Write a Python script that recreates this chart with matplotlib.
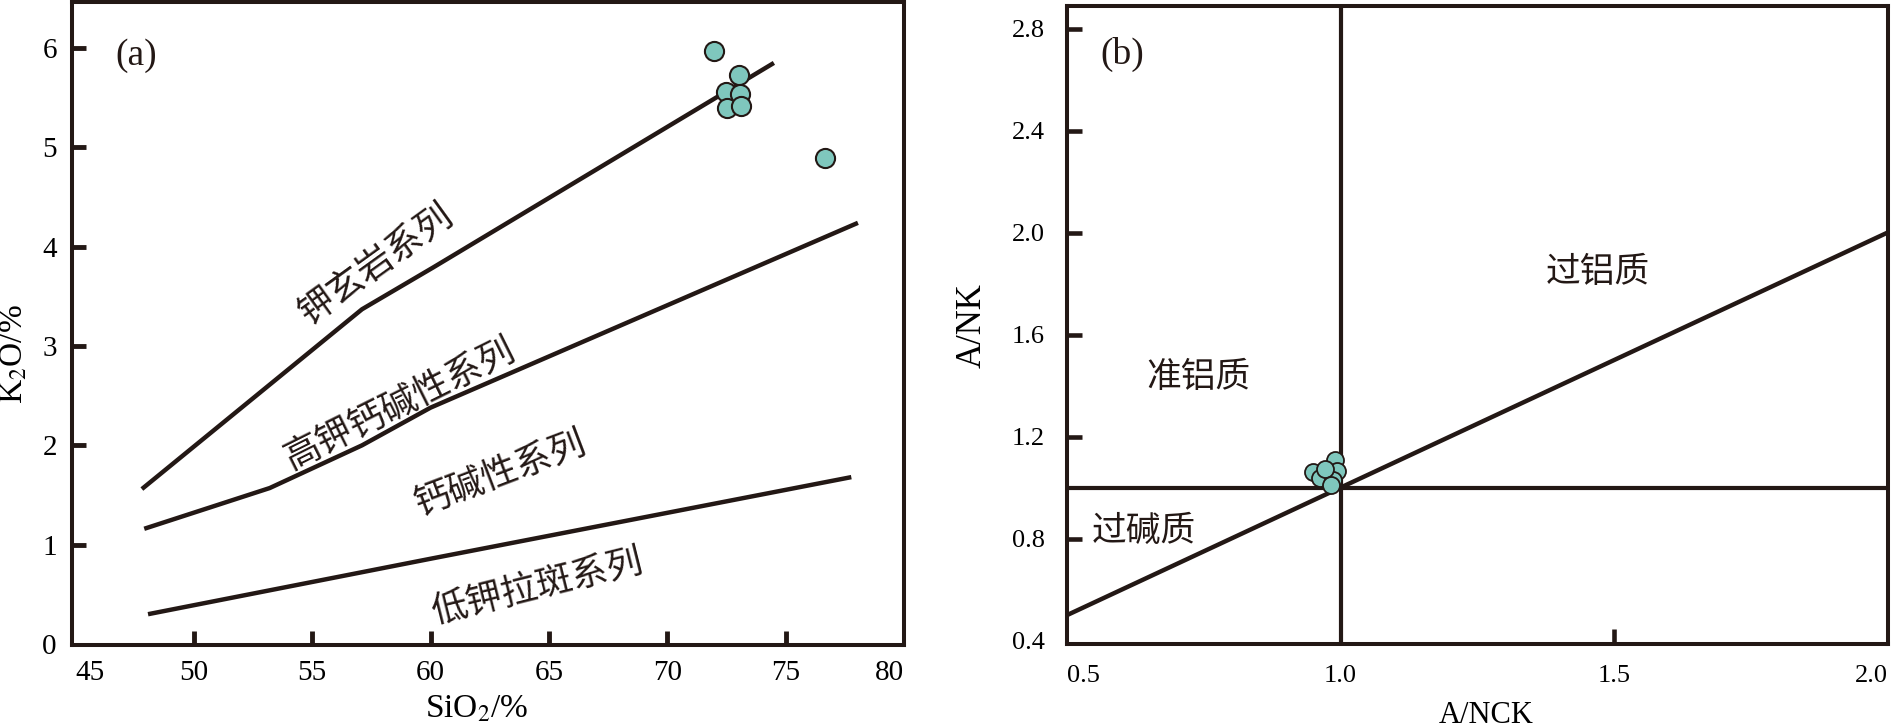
import matplotlib
matplotlib.use("Agg")
import matplotlib.pyplot as plt

# ---------------- data ----------------
# Panel (a): SiO2-K2O series boundaries
sho_x = [47.8, 57.1, 60.1, 74.5]
sho_y = [1.56, 3.37, 3.79, 5.85]
hk_x = [47.9, 53.2, 57.1, 60.0, 78.05]
hk_y = [1.16, 1.57, 2.00, 2.38, 4.24]
ca_x = [48.06, 60.03, 77.77]
ca_y = [0.30, 0.86, 1.68]

sio2 = [71.98, 73.02, 72.47, 73.06, 72.50, 73.13, 76.65]
k2o = [5.97, 5.73, 5.56, 5.54, 5.40, 5.42, 4.89]

a_xticks = [45, 50, 55, 60, 65, 70, 75, 80]
a_yticks = [0, 1, 2, 3, 4, 5, 6]

series_labels = ["钾玄岩系列", "高钾钙碱性系列", "钙碱性系列", "低钾拉斑系列"]
series_pos = [(57.7, 3.82), (58.69, 2.42), (62.96, 1.72), (64.49, 0.58)]
series_rot = [35.8, 26.5, 20.8, 14.0]

# Panel (b): A/NCK - A/NK
anck = [0.990, 0.993, 0.950, 0.962, 0.987, 0.972, 0.982]
ank = [1.108, 1.065, 1.060, 1.036, 1.030, 1.072, 1.012]

b_xticks = [0.5, 1.0, 1.5, 2.0]
b_xticklabels = ["0.5", "1.0", "1.5", "2.0"]
b_yticks = [0.4, 0.8, 1.2, 1.6, 2.0, 2.4, 2.8]
b_yticklabels = ["0.4", "0.8", "1.2", "1.6", "2.0", "2.4", "2.8"]

field_labels = ["过铝质", "准铝质", "过碱质"]
field_pos = [(1.47, 1.842), (0.74, 1.433), (0.64, 0.827)]

# ---------------- style ----------------
LINE = "#231815"
FACE = "#7fc7bd"
SERIF = ["Liberation Serif", "DejaVu Serif"]
CJK = ["Noto Sans CJK SC", "DejaVu Sans"]

plt.rcParams["font.family"] = SERIF
plt.rcParams["mathtext.fontset"] = "stix"

fig = plt.figure(figsize=(18.91, 7.27), dpi=100)
axa = fig.add_axes([0.0381, 0.1128, 0.4400, 0.8840])
axb = fig.add_axes([0.5643, 0.1136, 0.4339, 0.8787])

for ax in (axa, axb):
    for sp in ax.spines.values():
        sp.set_linewidth(2.9)
        sp.set_color(LINE)

# ---------------- panel (a) ----------------
axa.plot(sho_x, sho_y, color=LINE, lw=3.2, solid_capstyle="butt", zorder=2)
axa.plot(hk_x, hk_y, color=LINE, lw=3.2, solid_capstyle="butt", zorder=2)
axa.plot(ca_x, ca_y, color=LINE, lw=3.2, solid_capstyle="butt", zorder=2)
axa.scatter(sio2, k2o, s=190, c=FACE, edgecolors=LINE, linewidths=1.5, zorder=3)

axa.set_xlim(44.85, 79.75)
axa.set_ylim(-0.01, 6.46)
axa.set_xticks(a_xticks)
axa.set_yticks(a_yticks)
axa.tick_params(direction="in", length=10, width=3.5, color=LINE,
                labelsize=21, top=False, right=False)
axa.tick_params(axis="y", pad=11)
axa.tick_params(axis="x", pad=11)
for i in (0, len(a_xticks) - 1):
    axa.xaxis.get_major_ticks()[i].tick1line.set_visible(False)
axa.yaxis.get_major_ticks()[0].tick1line.set_visible(False)
xl = axa.get_xticklabels()
xl[0].set_ha("left")
xl[-1].set_ha("right")

axa.set_xlabel("SiO$_2$/%", fontsize=24, va="center")
axa.xaxis.set_label_coords(0.487, -0.10)
axa.set_ylabel("K$_2$O/%", fontsize=24, va="center", ha="center")
axa.yaxis.set_label_coords(-0.069, 0.452)

for lab, (x, y), r in zip(series_labels, series_pos, series_rot):
    axa.text(x, y, lab, family=CJK, fontsize=26, rotation=r,
             rotation_mode="anchor", ha="center", va="center", color=LINE)

axa.text(0.0766, 0.917, "(a)", transform=axa.transAxes, fontsize=27,
         ha="center", va="center", color=LINE)

# ---------------- panel (b) ----------------
axb.set_xlim(0.5, 2.0)
axb.set_ylim(0.385, 2.89)
axb.axvline(1.0, color=LINE, lw=3.0, zorder=2)
axb.axhline(1.0, color=LINE, lw=3.0, zorder=2)
axb.plot([0.5, 2.0], [0.5, 2.0], color=LINE, lw=3.2, zorder=2)
axb.scatter(anck, ank, s=150, c=FACE, edgecolors=LINE, linewidths=1.3, zorder=3)

axb.set_xticks(b_xticks)
axb.set_xticklabels(b_xticklabels)
axb.set_yticks(b_yticks)
axb.set_yticklabels(b_yticklabels)
axb.tick_params(direction="in", length=11, width=3.3, color=LINE,
                labelsize=19, top=False, right=False)
axb.tick_params(axis="y", pad=16)
axb.tick_params(axis="x", pad=15)
for i in (0, 1, 3):
    axb.xaxis.get_major_ticks()[i].tick1line.set_visible(False)
axb.yaxis.get_major_ticks()[0].tick1line.set_visible(False)
bl = axb.get_xticklabels()
bl[0].set_ha("left")
bl[-1].set_ha("right")

axb.set_xlabel("A/NCK", fontsize=22, va="center")
axb.xaxis.set_label_coords(0.511, -0.112)
axb.set_ylabel("A/NK", fontsize=25, va="center", ha="center")
axb.yaxis.set_label_coords(-0.116, 0.499)

for lab, (x, y) in zip(field_labels, field_pos):
    axb.text(x, y, lab, family=CJK, fontsize=25, ha="center", va="center",
             color=LINE)

axb.text(0.0667, 0.923, "(b)", transform=axb.transAxes, fontsize=27,
         ha="center", va="center", color=LINE)

fig.savefig("out.png", dpi=100, facecolor="white")
